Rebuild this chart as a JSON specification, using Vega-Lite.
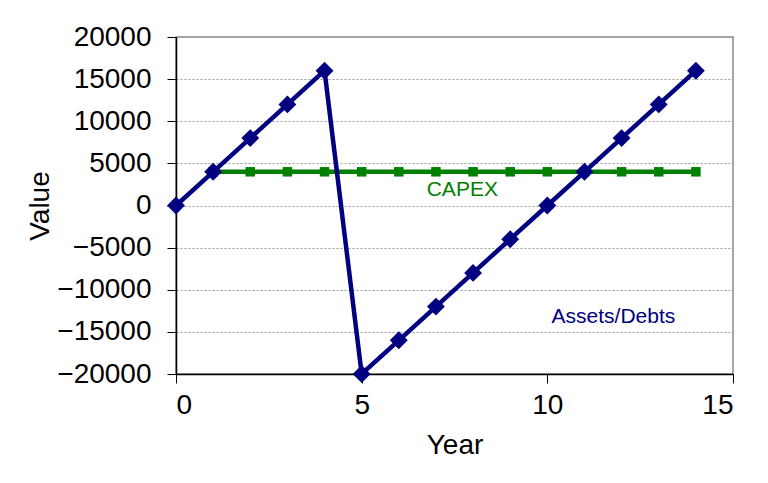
{
  "$schema": "https://vega.github.io/schema/vega-lite/v6.json",
  "width": 557,
  "height": 337,
  "autosize": {"type": "none"},
  "padding": {"left": 176, "top": 37, "right": 35, "bottom": 109},
  "background": "white",
  "config": {
    "font": "Liberation Sans",
    "view": {"stroke": "#888888", "strokeWidth": 1.5}
  },
  "datasets": {
    "assets": [
      {"year": 0, "value": 0},
      {"year": 1, "value": 4000},
      {"year": 2, "value": 8000},
      {"year": 3, "value": 12000},
      {"year": 4, "value": 16000},
      {"year": 5, "value": -20000},
      {"year": 6, "value": -16000},
      {"year": 7, "value": -12000},
      {"year": 8, "value": -8000},
      {"year": 9, "value": -4000},
      {"year": 10, "value": 0},
      {"year": 11, "value": 4000},
      {"year": 12, "value": 8000},
      {"year": 13, "value": 12000},
      {"year": 14, "value": 16000}
    ],
    "capex": [
      {"year": 1, "value": 4000},
      {"year": 2, "value": 4000},
      {"year": 3, "value": 4000},
      {"year": 4, "value": 4000},
      {"year": 5, "value": 4000},
      {"year": 6, "value": 4000},
      {"year": 7, "value": 4000},
      {"year": 8, "value": 4000},
      {"year": 9, "value": 4000},
      {"year": 10, "value": 4000},
      {"year": 11, "value": 4000},
      {"year": 12, "value": 4000},
      {"year": 13, "value": 4000},
      {"year": 14, "value": 4000}
    ],
    "labels": [
      {"year": 7.71, "value": 1800, "label": "CAPEX", "series": "capex"},
      {"year": 11.78, "value": -13200, "label": "Assets/Debts", "series": "assets"}
    ]
  },
  "encoding": {
    "x": {
      "field": "year", "type": "quantitative",
      "scale": {"domain": [0, 15], "nice": false, "zero": false},
      "axis": {
        "title": "Year", "values": [0, 5, 10, 15], "grid": false, "format": "d",
        "domainColor": "#000000", "domainWidth": 1.5, "tickColor": "#000000", "tickSize": 9,
        "labelFontSize": 28, "labelColor": "#000000", "labelPadding": 8,
        "titleFontSize": 28, "titleFontWeight": "normal", "titleColor": "#000000", "titlePadding": 12
      }
    },
    "y": {
      "field": "value", "type": "quantitative",
      "scale": {"domain": [-20000, 20000], "nice": false},
      "axis": {
        "title": "Value", "values": [-20000, -15000, -10000, -5000, 0, 5000, 10000, 15000, 20000],
        "format": "d",
        "grid": true, "gridColor": "#999999", "gridDash": [2, 2], "gridWidth": 1,
        "domainColor": "#000000", "domainWidth": 1.5, "tickColor": "#000000", "tickSize": 9,
        "labelFontSize": 28, "labelColor": "#000000", "labelPadding": 16,
        "titleFontSize": 28, "titleFontWeight": "normal", "titleColor": "#000000", "titlePadding": 2
      }
    }
  },
  "layer": [
    {
      "data": {"name": "capex"},
      "mark": {"type": "line", "color": "#008000", "strokeWidth": 4.5, "point": {"shape": "square", "size": 90, "color": "#008000", "filled": true, "opacity": 1}},
      "encoding": {}
    },
    {
      "data": {"name": "assets"},
      "mark": {"type": "line", "color": "#000080", "strokeWidth": 4.5, "point": {"shape": "diamond", "size": 320, "color": "#000080", "filled": true, "opacity": 1}},
      "encoding": {}
    },
    {
      "data": {"name": "labels"},
      "mark": {"type": "text", "fontSize": 21, "align": "center", "baseline": "middle"},
      "encoding": {
        "text": {"field": "label"},
        "color": {"field": "series", "type": "nominal", "scale": {"domain": ["capex", "assets"], "range": ["#008000", "#000080"]}, "legend": null}
      }
    }
  ]
}
